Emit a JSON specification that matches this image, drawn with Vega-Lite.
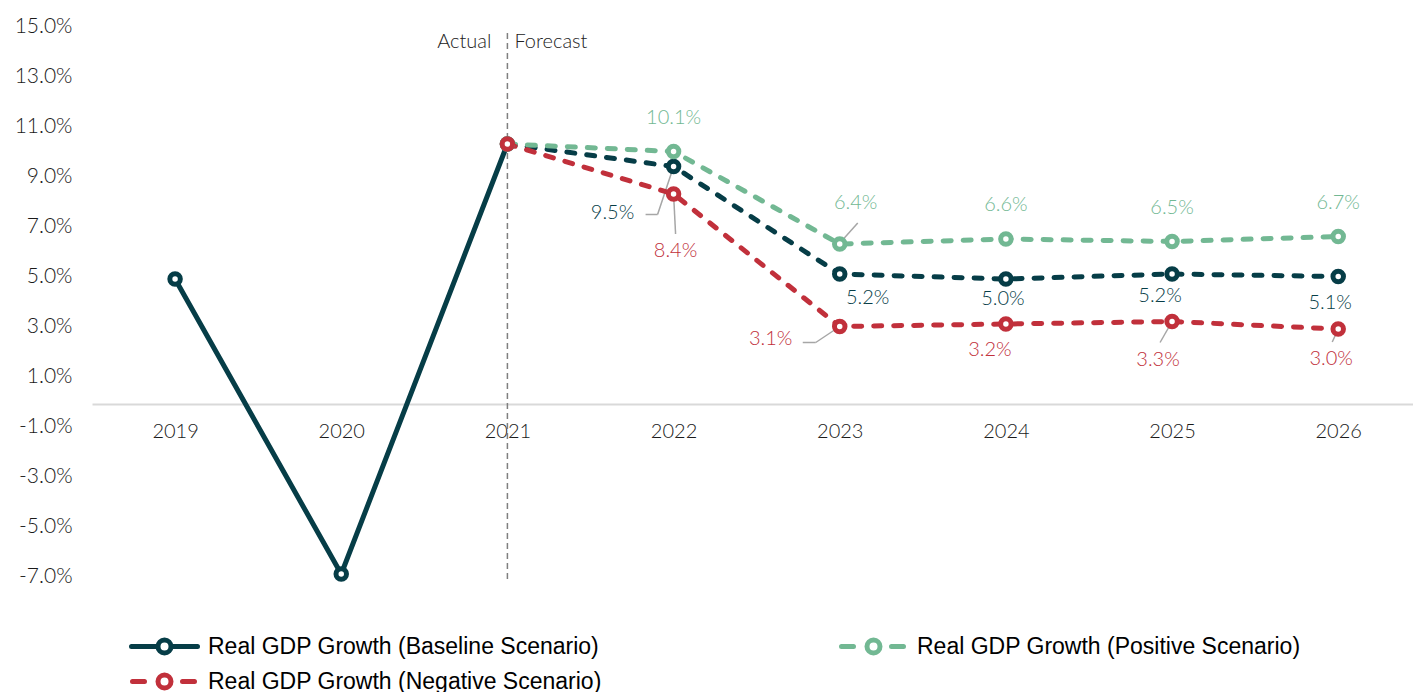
{
  "$schema": "https://vega.github.io/schema/vega-lite/v6.json",
  "width": 1321,
  "height": 550,
  "autosize": "none",
  "padding": {"left": 92, "top": 29, "right": 0, "bottom": 113},
  "background": "white",
  "config": {"view": {"stroke": null}, "font": "Lato"},
  "data": {"values": [
    {"year": 2019, "scenario": "Baseline", "series": "Real GDP Growth (Baseline Scenario)", "value": 5.0, "label": ""},
    {"year": 2020, "scenario": "Baseline", "series": "Real GDP Growth (Baseline Scenario)", "value": -6.8, "label": ""},
    {"year": 2021, "scenario": "Baseline", "series": "Real GDP Growth (Baseline Scenario)", "value": 10.4, "label": ""},
    {"year": 2022, "scenario": "Baseline", "series": "Real GDP Growth (Baseline Scenario)", "value": 9.5, "label": "9.5%"},
    {"year": 2023, "scenario": "Baseline", "series": "Real GDP Growth (Baseline Scenario)", "value": 5.2, "label": "5.2%"},
    {"year": 2024, "scenario": "Baseline", "series": "Real GDP Growth (Baseline Scenario)", "value": 5.0, "label": "5.0%"},
    {"year": 2025, "scenario": "Baseline", "series": "Real GDP Growth (Baseline Scenario)", "value": 5.2, "label": "5.2%"},
    {"year": 2026, "scenario": "Baseline", "series": "Real GDP Growth (Baseline Scenario)", "value": 5.1, "label": "5.1%"},
    {"year": 2021, "scenario": "Positive", "series": "Real GDP Growth (Positive Scenario)", "value": 10.4, "label": ""},
    {"year": 2022, "scenario": "Positive", "series": "Real GDP Growth (Positive Scenario)", "value": 10.1, "label": "10.1%"},
    {"year": 2023, "scenario": "Positive", "series": "Real GDP Growth (Positive Scenario)", "value": 6.4, "label": "6.4%"},
    {"year": 2024, "scenario": "Positive", "series": "Real GDP Growth (Positive Scenario)", "value": 6.6, "label": "6.6%"},
    {"year": 2025, "scenario": "Positive", "series": "Real GDP Growth (Positive Scenario)", "value": 6.5, "label": "6.5%"},
    {"year": 2026, "scenario": "Positive", "series": "Real GDP Growth (Positive Scenario)", "value": 6.7, "label": "6.7%"},
    {"year": 2021, "scenario": "Negative", "series": "Real GDP Growth (Negative Scenario)", "value": 10.4, "label": ""},
    {"year": 2022, "scenario": "Negative", "series": "Real GDP Growth (Negative Scenario)", "value": 8.4, "label": "8.4%"},
    {"year": 2023, "scenario": "Negative", "series": "Real GDP Growth (Negative Scenario)", "value": 3.1, "label": "3.1%"},
    {"year": 2024, "scenario": "Negative", "series": "Real GDP Growth (Negative Scenario)", "value": 3.2, "label": "3.2%"},
    {"year": 2025, "scenario": "Negative", "series": "Real GDP Growth (Negative Scenario)", "value": 3.3, "label": "3.3%"},
    {"year": 2026, "scenario": "Negative", "series": "Real GDP Growth (Negative Scenario)", "value": 3.0, "label": "3.0%"}
  ]},
  "encoding": {
    "x": {"field": "year", "type": "quantitative",
      "scale": {"domain": [2018.5, 2026.45], "nice": false, "zero": false},
      "axis": {"title": null, "values": [2019, 2020, 2021, 2022, 2023, 2024, 2025, 2026], "format": "d", "ticks": false, "grid": false,
        "offset": -175, "domainColor": "#d9d9d9", "domainWidth": 2, "labelFont": "Lato", "labelFontWeight": 300, "labelFontSize": 20, "labelColor": "#1a1a1a",
        "labelPadding": 17, "labelFlush": false, "labelOverlap": false}},
    "y": {"field": "value", "type": "quantitative",
      "scale": {"domain": [-7, 15], "nice": false, "zero": false},
      "axis": {"title": null, "values": [-7, -5, -3, -1, 1, 3, 5, 7, 9, 11, 13, 15], "labelExpr": "(datum.value < 0 ? '-' : '') + format(abs(datum.value), '.1f') + '%'",
        "ticks": false, "domain": false, "grid": false, "labelFont": "Lato", "labelFontWeight": 300, "labelFontSize": 21, "labelColor": "#1a1a1a",
        "labelPadding": 20, "labelOffset": -3, "labelFlush": false, "labelOverlap": false}},
    "color": {"field": "series", "type": "nominal",
      "scale": {"domain": ["Real GDP Growth (Baseline Scenario)", "Real GDP Growth (Positive Scenario)", "Real GDP Growth (Negative Scenario)"],
        "range": ["#063d47", "#72b893", "#c1303b"]},
      "legend": {"orient": "none", "legendX": 60, "legendY": 605, "columns": 2, "direction": "horizontal", "title": null, "symbolSize": 400,
        "labelFont": "Liberation Sans", "labelFontSize": 23, "labelColor": "#000000", "labelOffset": 31, "columnPadding": 229,
        "rowPadding": 2, "padding": 0, "symbolStrokeWidth": 5, "labelLimit": 600, "symbolFillColor": "white",
        "encode": {"symbols": {"update": {
          "shape": {"signal": "datum.value === 'Real GDP Growth (Baseline Scenario)' ? 'M-3.3,0L-0.65,0M0.65,0L3.3,0M-0.65,0A0.65,0.65 0 1,0 0.65,0A0.65,0.65 0 1,0 -0.65,0' : 'M-3.2,0L-2.0,0M1.8,0L3.0,0M-0.65,0A0.65,0.65 0 1,0 0.65,0A0.65,0.65 0 1,0 -0.65,0'"},
          "fillOpacity": {"value": 0},
          "strokeWidth": {"value": 5}, "strokeCap": {"value": "round"}, "opacity": {"value": 1}}}}}}
  },
  "layer": [
    {"transform": [{"filter": "datum.scenario === 'Baseline' && datum.year === 2021"}],
     "mark": {"type": "rule", "color": "#7f7f7f", "strokeDash": [6, 4], "strokeWidth": 1.5},
     "encoding": {"x": {"datum": 2021, "type": "quantitative"}, "y": {"datum": -7, "type": "quantitative"}, "y2": {"datum": 15}, "color": {"value": "#7f7f7f"}}},
    {"transform": [{"filter": "datum.scenario === 'Baseline' && datum.year === 2021"}],
     "mark": {"type": "text", "text": "Actual", "align": "right", "baseline": "middle", "dx": -16, "font": "Lato", "fontWeight": 300, "fontSize": 20, "color": "#222222"},
     "encoding": {"x": {"datum": 2021, "type": "quantitative"}, "y": {"datum": 14.5, "type": "quantitative"}, "color": {"value": "#222222"}}},
    {"transform": [{"filter": "datum.scenario === 'Baseline' && datum.year === 2021"}],
     "mark": {"type": "text", "text": "Forecast", "align": "left", "baseline": "middle", "dx": 7, "font": "Lato", "fontWeight": 300, "fontSize": 20, "color": "#222222"},
     "encoding": {"x": {"datum": 2021, "type": "quantitative"}, "y": {"datum": 14.5, "type": "quantitative"}, "color": {"value": "#222222"}}},
    {"transform": [{"filter": "datum.scenario === 'Positive' && datum.year === 2023"}],
     "mark": {"type": "rule", "color": "#a6a6a6", "strokeWidth": 1.5, "xOffset": 1, "yOffset": -2, "x2Offset": 18, "y2Offset": -21},
     "encoding": {"x2": {"field": "year"}, "y2": {"field": "value"}, "color": {"value": "#a6a6a6"}}},
    {"transform": [{"filter": "datum.scenario === 'Baseline' && datum.year === 2022"}],
     "mark": {"type": "rule", "color": "#a6a6a6", "strokeWidth": 1.5, "xOffset": 0, "yOffset": 0, "x2Offset": -16, "y2Offset": 48},
     "encoding": {"x2": {"field": "year"}, "y2": {"field": "value"}, "color": {"value": "#a6a6a6"}}},
    {"transform": [{"filter": "datum.scenario === 'Baseline' && datum.year === 2022"}],
     "mark": {"type": "rule", "color": "#a6a6a6", "strokeWidth": 1.5, "xOffset": -16, "yOffset": 48, "x2Offset": -28, "y2Offset": 48},
     "encoding": {"x2": {"field": "year"}, "y2": {"field": "value"}, "color": {"value": "#a6a6a6"}}},
    {"transform": [{"filter": "datum.scenario === 'Negative' && datum.year === 2022"}],
     "mark": {"type": "rule", "color": "#a6a6a6", "strokeWidth": 1.5, "xOffset": 0, "yOffset": 0, "x2Offset": 2, "y2Offset": 40},
     "encoding": {"x2": {"field": "year"}, "y2": {"field": "value"}, "color": {"value": "#a6a6a6"}}},
    {"transform": [{"filter": "datum.scenario === 'Negative' && datum.year === 2023"}],
     "mark": {"type": "rule", "color": "#a6a6a6", "strokeWidth": 1.5, "xOffset": 0, "yOffset": 0, "x2Offset": -24, "y2Offset": 16},
     "encoding": {"x2": {"field": "year"}, "y2": {"field": "value"}, "color": {"value": "#a6a6a6"}}},
    {"transform": [{"filter": "datum.scenario === 'Negative' && datum.year === 2023"}],
     "mark": {"type": "rule", "color": "#a6a6a6", "strokeWidth": 1.5, "xOffset": -24, "yOffset": 16, "x2Offset": -37, "y2Offset": 16},
     "encoding": {"x2": {"field": "year"}, "y2": {"field": "value"}, "color": {"value": "#a6a6a6"}}},
    {"transform": [{"filter": "datum.scenario === 'Negative' && datum.year === 2025"}],
     "mark": {"type": "rule", "color": "#a6a6a6", "strokeWidth": 1.5, "xOffset": 0, "yOffset": 0, "x2Offset": -12, "y2Offset": 21},
     "encoding": {"x2": {"field": "year"}, "y2": {"field": "value"}, "color": {"value": "#a6a6a6"}}},
    {"transform": [{"filter": "datum.scenario === 'Negative' && datum.year === 2026"}],
     "mark": {"type": "rule", "color": "#a6a6a6", "strokeWidth": 1.5, "xOffset": 0, "yOffset": 0, "x2Offset": -6, "y2Offset": 13},
     "encoding": {"x2": {"field": "year"}, "y2": {"field": "value"}, "color": {"value": "#a6a6a6"}}},
    {"transform": [{"filter": "datum.scenario === 'Baseline' && datum.year <= 2021"}],
     "mark": {"type": "line", "strokeWidth": 5, "strokeCap": "round", "strokeJoin": "round"}},
    {"transform": [{"filter": "datum.year >= 2021"}],
     "mark": {"type": "line", "strokeWidth": 5, "strokeCap": "round", "strokeDash": [8, 12]}},
    {"mark": {"type": "point", "shape": "circle", "filled": false, "fill": "white", "fillOpacity": 1, "opacity": 1, "size": 110, "strokeWidth": 5},
     "encoding": {"color": {"field": "series", "type": "nominal", "legend": null}}},
    {"transform": [{"filter": "datum.scenario === 'Positive' && datum.year !== 2023 && datum.year >= 2022"}],
     "mark": {"type": "text", "font": "Lato", "fontWeight": 300, "fontSize": 20, "baseline": "middle", "dx": 0, "dy": -34},
     "encoding": {"text": {"field": "label"}, "color": {"field": "series", "type": "nominal", "legend": null}}},
    {"transform": [{"filter": "datum.scenario === 'Positive' && datum.year === 2023"}],
     "mark": {"type": "text", "font": "Lato", "fontWeight": 300, "fontSize": 20, "baseline": "middle", "dx": 16, "dy": -41},
     "encoding": {"text": {"field": "label"}, "color": {"field": "series", "type": "nominal", "legend": null}}},
    {"transform": [{"filter": "datum.scenario === 'Baseline' && datum.year === 2022"}],
     "mark": {"type": "text", "font": "Lato", "fontWeight": 300, "fontSize": 20, "baseline": "middle", "dx": -61, "dy": 46},
     "encoding": {"text": {"field": "label"}, "color": {"field": "series", "type": "nominal", "legend": null}}},
    {"transform": [{"filter": "datum.scenario === 'Baseline' && datum.year === 2023"}],
     "mark": {"type": "text", "font": "Lato", "fontWeight": 300, "fontSize": 20, "baseline": "middle", "dx": 28, "dy": 24},
     "encoding": {"text": {"field": "label"}, "color": {"field": "series", "type": "nominal", "legend": null}}},
    {"transform": [{"filter": "datum.scenario === 'Baseline' && datum.year === 2024"}],
     "mark": {"type": "text", "font": "Lato", "fontWeight": 300, "fontSize": 20, "baseline": "middle", "dx": -3, "dy": 20},
     "encoding": {"text": {"field": "label"}, "color": {"field": "series", "type": "nominal", "legend": null}}},
    {"transform": [{"filter": "datum.scenario === 'Baseline' && datum.year === 2025"}],
     "mark": {"type": "text", "font": "Lato", "fontWeight": 300, "fontSize": 20, "baseline": "middle", "dx": -12, "dy": 22},
     "encoding": {"text": {"field": "label"}, "color": {"field": "series", "type": "nominal", "legend": null}}},
    {"transform": [{"filter": "datum.scenario === 'Baseline' && datum.year === 2026"}],
     "mark": {"type": "text", "font": "Lato", "fontWeight": 300, "fontSize": 20, "baseline": "middle", "dx": -8, "dy": 26},
     "encoding": {"text": {"field": "label"}, "color": {"field": "series", "type": "nominal", "legend": null}}},
    {"transform": [{"filter": "datum.scenario === 'Negative' && datum.year === 2022"}],
     "mark": {"type": "text", "font": "Lato", "fontWeight": 300, "fontSize": 20, "baseline": "middle", "dx": 2, "dy": 57},
     "encoding": {"text": {"field": "label"}, "color": {"field": "series", "type": "nominal", "legend": null}}},
    {"transform": [{"filter": "datum.scenario === 'Negative' && datum.year === 2023"}],
     "mark": {"type": "text", "font": "Lato", "fontWeight": 300, "fontSize": 20, "baseline": "middle", "dx": -69, "dy": 12},
     "encoding": {"text": {"field": "label"}, "color": {"field": "series", "type": "nominal", "legend": null}}},
    {"transform": [{"filter": "datum.scenario === 'Negative' && datum.year === 2024"}],
     "mark": {"type": "text", "font": "Lato", "fontWeight": 300, "fontSize": 20, "baseline": "middle", "dx": -16, "dy": 26},
     "encoding": {"text": {"field": "label"}, "color": {"field": "series", "type": "nominal", "legend": null}}},
    {"transform": [{"filter": "datum.scenario === 'Negative' && datum.year === 2025"}],
     "mark": {"type": "text", "font": "Lato", "fontWeight": 300, "fontSize": 20, "baseline": "middle", "dx": -14, "dy": 38},
     "encoding": {"text": {"field": "label"}, "color": {"field": "series", "type": "nominal", "legend": null}}},
    {"transform": [{"filter": "datum.scenario === 'Negative' && datum.year === 2026"}],
     "mark": {"type": "text", "font": "Lato", "fontWeight": 300, "fontSize": 20, "baseline": "middle", "dx": -7, "dy": 30},
     "encoding": {"text": {"field": "label"}, "color": {"field": "series", "type": "nominal", "legend": null}}}
  ]
}
